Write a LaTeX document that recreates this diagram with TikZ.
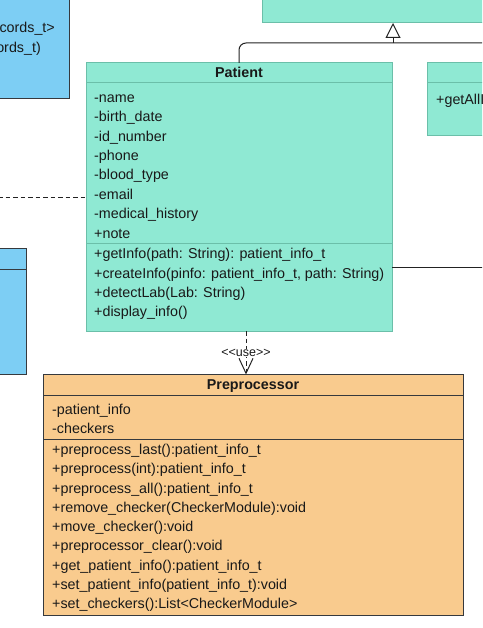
\documentclass[tikz,border=0pt]{standalone}
\usepackage{fontspec}
\setmainfont{Liberation Sans}
\usetikzlibrary{arrows.meta}
\definecolor{grn}{HTML}{8FE9D3}
\definecolor{grnline}{HTML}{6BBFA9}
\definecolor{blu}{HTML}{7DCEF4}
\definecolor{org}{HTML}{F9CB8E}
\definecolor{dk}{HTML}{36393D}
\definecolor{edge}{HTML}{222222}
\begin{document}
\begin{tikzpicture}[x=1pt,y=-1pt,
  box/.style={draw, rectangle, anchor=north west, inner sep=0pt, outer sep=0pt, line width=1pt},
  gbox/.style={box, fill=grn, draw=grnline},
  bbox/.style={box, fill=blu, draw=dk},
  obox/.style={box, fill=org, draw=dk},
  txt/.style={anchor=base west, inner sep=0pt, font=\fontsize{14.3}{16}\selectfont, text=black!90},
  rtxt/.style={txt, anchor=base east},
  hdr/.style={anchor=base, inner sep=0pt, font=\fontsize{14.3}{16}\selectfont\bfseries, text=black!90},
  conn/.style={draw=edge, line width=1pt},
  dashline/.style={dash pattern=on 4.5pt off 3pt}
]
\useasboundingbox (0,0) rectangle (482,628);
\begin{scope}
\clip (0,0) rectangle (482,628);
% partially visible boxes
\node[gbox, minimum width=224, minimum height=26] (top) at (262,-3) {};
\node[bbox, minimum width=72, minimum height=102] (ltop) at (-3,-3) {};
\node[rtxt] (l1) at (55,32.5) {cords\_t>};
\node[rtxt] (l2) at (41,52.5) {ords\_t)};
\node[bbox, minimum width=29, minimum height=125.6] (lbot) at (-3,248.7) {};
\draw[dk, line width=1pt] ([yshift=-20.3pt]lbot.north west) -- ([yshift=-20.3pt]lbot.north east);
\node[gbox, minimum width=60, minimum height=73] (rbox) at (427,63) {};
\draw[grnline, line width=1pt] ([yshift=-20pt]rbox.north west) -- ([yshift=-20pt]rbox.north east);
\node[txt] (r1) at (436,105) {+getAllI};

% Patient
\node[gbox, minimum width=306, minimum height=268] (patient) at (86,63) {};
\draw[grnline, line width=1pt] ([yshift=-20pt]patient.north west) -- ([yshift=-20pt]patient.north east);
\draw[grnline, line width=1pt] ([yshift=-180.5pt]patient.north west) -- ([yshift=-180.5pt]patient.north east);
\node[hdr] (ph) at (239,78) {Patient};
\foreach \t [count=\i from 0] in {-name,-birth\_date,-id\_number,-phone,-blood\_type,-email,-medical\_history,+note}
  \node[txt] (pa\i) at (94,102.6+\i*19.35) {\t};
\foreach \t [count=\i from 0] in {{+getInfo(path: String): patient\_info\_t},{+createInfo(pinfo: patient\_info\_t, path: String)},{+detectLab(Lab: String)},{+display\_info()}}
  \node[txt] (pm\i) at (94,258.7+\i*19.3) {\t};

% Preprocessor
\node[obox, minimum width=420, minimum height=240.5] (prep) at (43,374.5) {};
\draw[dk, line width=1pt] ([yshift=-20.5pt]prep.north west) -- ([yshift=-20.5pt]prep.north east);
\draw[dk, line width=1pt] ([yshift=-64.5pt]prep.north west) -- ([yshift=-64.5pt]prep.north east);
\node[hdr] (prh) at (253,389.2) {Preprocessor};
\node[txt] (pra0) at (52,414.5) {-patient\_info};
\node[txt] (pra1) at (52,433.8) {-checkers};
\foreach \t [count=\i from 0] in {{+preprocess\_last():patient\_info\_t},{+preprocess(int):patient\_info\_t},{+preprocess\_all():patient\_info\_t},{+remove\_checker(CheckerModule):void},{+move\_checker():void},{+preprocessor\_clear():void},{+get\_patient\_info():patient\_info\_t},{+set\_patient\_info(patient\_info\_t):void},{+set\_checkers():List<CheckerModule>}}
  \node[txt] (prm\i) at (52,454.5+\i*19.25) {\t};

% connectors
\coordinate (inhR) at (486,43);
\coordinate (inhJ) at (393,43);
\draw[conn, rounded corners=7pt] (patient.north) |- (inhR);
\draw[conn, -{Triangle[open, length=15pt, width=15pt]}] (inhJ) -- (inhJ |- top.south);

\coordinate (dl) at (-2,197.3);
\draw[conn, dashline] (dl) -- (dl -| patient.west);
\coordinate (rl) at (486,267.7);
\draw[conn] (patient.east |- rl) -- (rl);

\coordinate (u1) at ([xshift=7pt]patient.south);
\draw[conn, dashline, -{Straight Barb[length=15pt, width=14pt]}] (u1) -- (u1 |- prep.north)
  node[midway, fill=white, inner sep=0.5pt, font=\fontsize{12.5}{14}\selectfont, text=black!90] (use) {<{}<use>{}>};
\end{scope}
\end{tikzpicture}
\end{document}
